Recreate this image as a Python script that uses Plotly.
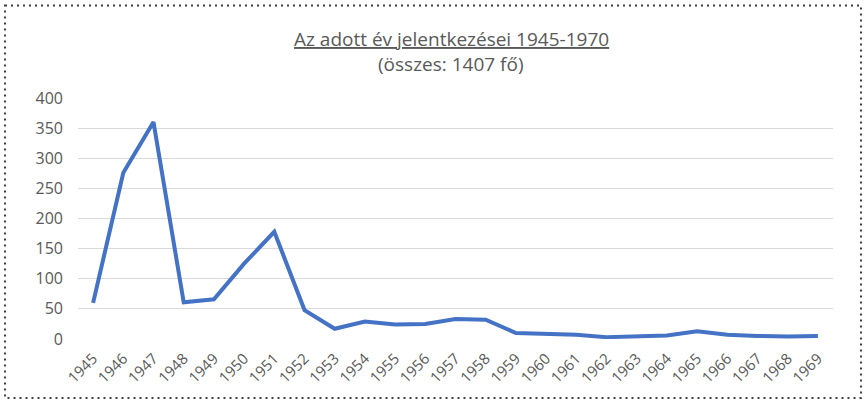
import plotly.graph_objects as go

years = [str(y) for y in range(1945, 1970)]
counts = [60, 276, 360, 61, 66, 125, 178, 48, 17, 29, 24, 25, 33, 32, 10, 9, 7, 3, 4, 6, 13, 7, 5, 4, 5]
y_ticks = [0, 50, 100, 150, 200, 250, 300, 350, 400]
title_main = "Az adott év jelentkezései 1945-1970"
title_sub = "(összes: 1407 fő)"

FONT = "Open Sans"
GRAY = "#595959"

fig = go.Figure()
fig.add_trace(go.Scatter(
    x=years, y=counts, mode="lines",
    line=dict(color="#4472C4", width=4),
    hoverinfo="x+y",
))

L, R, T, B = 78, 866 - 833, 98, 402 - 339
pw, ph = 866 - L - R, 402 - T - B

def px_x(x):
    return (x - L) / pw

def px_y(y):
    return (402 - B - y) / ph

fig.update_layout(
    width=866, height=402,
    margin=dict(l=L, r=R, t=T, b=B, autoexpand=False),
    paper_bgcolor="white", plot_bgcolor="white",
    showlegend=False,
    font=dict(family=FONT, color=GRAY, size=16),
    xaxis=dict(
        type="category", range=[-0.5, len(years) - 0.5], automargin=False,
        tickangle=-45, showgrid=False, zeroline=False, showline=False,
        ticks="", tickfont=dict(size=15, color=GRAY), ticklabelstandoff=7,
    ),
    yaxis=dict(
        range=[0, 400], tickvals=y_ticks, showgrid=True, gridcolor="#D9D9D9",
        gridwidth=1, zeroline=False, showline=False, ticks="", automargin=False,
        tickfont=dict(size=16, color=GRAY), ticklabelstandoff=14,
    ),
    annotations=[
        dict(text="<u>" + title_main + "</u>", xref="paper", yref="paper",
             x=px_x(451), y=px_y(39), xanchor="center", yanchor="middle",
             showarrow=False, font=dict(size=19, color=GRAY, family=FONT)),
        dict(text=title_sub, xref="paper", yref="paper",
             x=px_x(451), y=px_y(64), xanchor="center", yanchor="middle",
             showarrow=False, font=dict(size=19, color=GRAY, family=FONT)),
    ],
    shapes=[
        dict(type="rect", xref="paper", yref="paper",
             x0=px_x(5), x1=px_x(861), y0=px_y(5.5), y1=px_y(398),
             line=dict(color="#404040", width=2, dash="2px,4px"),
             fillcolor="rgba(0,0,0,0)", layer="above"),
    ],
)

fig.write_html(
    "out.html",
    config={"displayModeBar": False},
    post_script="document.body.style.margin='0';document.body.style.padding='0';",
)
